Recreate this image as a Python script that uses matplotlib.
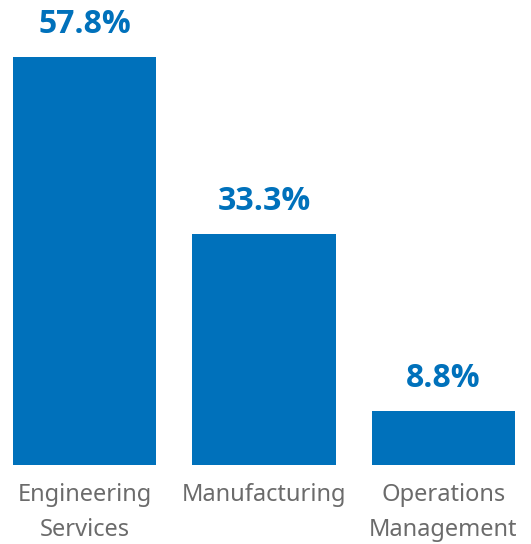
import matplotlib
matplotlib.use("Agg")
import matplotlib.pyplot as plt

categories = ["Engineering\nServices", "Manufacturing", "Operations\nManagement"]
shares = [57.8, 33.3, 8.8]
value_labels = ["57.8%", "33.3%", "8.8%"]

blue = "#0071bb"
grey = "#6b6b6b"

plt.rcParams['font.family'] = ['Open Sans', 'DejaVu Sans']

fig = plt.figure(figsize=(5.31, 5.44), dpi=100)
ax = fig.add_axes([0, 79 / 544, 1, 465 / 544])

x = range(len(shares))
bars = ax.bar(x, shares, width=0.8, color=blue)

ax.set_xlim(-0.4725, 2.489)
ax.set_ylim(1.33, 65.7)

for b, lab in zip(bars, value_labels):
    ax.annotate(lab, (b.get_x() + b.get_width() / 2, b.get_height()),
                xytext=(0, 24), textcoords="offset pixels",
                ha="center", va="baseline", fontsize=23, fontweight="bold",
                color=blue)

ax.set_xticks(list(x))
ax.set_xticklabels(categories, fontsize=17, color=grey, linespacing=1.6,
                   family=['Noto Sans', 'DejaVu Sans'])
ax.tick_params(axis="x", length=0, pad=13)
ax.tick_params(axis="y", left=False, labelleft=False)
for s in ax.spines.values():
    s.set_visible(False)

fig.savefig("out.png", dpi=100)
